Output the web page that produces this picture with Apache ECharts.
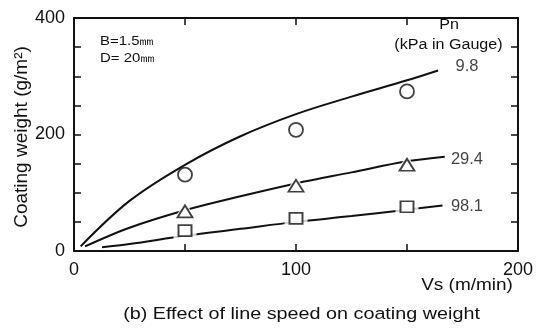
<!DOCTYPE html>
<html>
<head>
<meta charset="utf-8">
<script src="https://cdn.jsdelivr.net/npm/echarts@6/dist/echarts.min.js"></script>
<style>
  html, body { margin: 0; padding: 0; background: #fff; }
  #chart { width: 539px; height: 331px; }
</style>
</head>
<body>
<div id="chart"></div>
<script>
// Line speed Vs (m/min) at which coating weight was measured
const speeds = [50, 100, 150];

// Measured coating weight (g/m²) for each nozzle pressure Pn
const measured98 = [131, 208, 274];    // Pn = 9.8 kPa
const measured294 = [68, 112, 148];    // Pn = 29.4 kPa
const measured981 = [35, 56, 76];      // Pn = 98.1 kPa

// Fitted curves: [Vs, coating weight]
const curve98 = [[3, 8], [25, 86], [50, 148], [75, 197], [100, 235], [125, 265], [150, 293], [164, 310]];
const curve294 = [[5, 8], [25, 40], [50, 70], [75, 94], [100, 116], [125, 135], [150, 154], [167, 162]];
const curve981 = [[12.6, 6.5], [25, 12], [50, 26], [75, 38], [100, 50], [125, 60], [150, 71], [166, 78]];

// Pressure labels at the end of each curve: [Vs, weight] anchor and text
const pressureLabels = ['9.8', '29.4', '98.1'];
const pressureLabelAt = [[177, 316], [177, 157], [177, 76]];

// Axis tick labels
const xTickLabels = [0, 100, 200];
const yTickLabels = [0, 200, 400];

const FONT = '"Liberation Sans", Arial, Helvetica, sans-serif';
const INK = '#111';
const WIDE = 1.15; // horizontal stretch of the annotation lettering

const pairs = (xs, ys) => xs.map((x, i) => [x, ys[i]]);

const chart = echarts.init(document.getElementById('chart'), null, { renderer: 'canvas' });

const baseAxis = {
  min: 0,
  interval: 50,
  axisLine: { show: true, onZero: false, lineStyle: { color: INK, width: 2 } },
  axisTick: { show: true, inside: true, length: 7, lineStyle: { color: INK, width: 1.5 } },
  splitLine: { show: false }
};

function curveSeries(data) {
  return {
    type: 'line', data, smooth: 0.35, symbol: 'none', z: 2, silent: true,
    lineStyle: { color: INK, width: 2 }
  };
}
function haloSeries(data, symbol, size) {
  return {
    type: 'scatter', data, symbol, symbolSize: size, z: 3, silent: true,
    itemStyle: { color: '#fff', borderWidth: 0 }
  };
}
function markerSeries(data, symbol, size) {
  return {
    type: 'scatter', data, symbol, symbolSize: size, z: 4, silent: true,
    itemStyle: { color: '#fff', borderColor: INK, borderWidth: 1.8 }
  };
}

function note(text, cx, cy, size, align) {
  return {
    type: 'text', x: cx, y: cy, scaleX: WIDE, scaleY: 1, z: 10,
    style: { text, fill: INK, font: size + 'px ' + FONT, align: align || 'center', verticalAlign: 'middle' }
  };
}

chart.setOption({
  animation: false,
  backgroundColor: '#fff',
  grid: { left: 74, top: 18, right: 21, bottom: 80, containLabel: false },
  xAxis: [
    Object.assign({}, baseAxis, {
      type: 'value', max: 200, position: 'bottom',
      axisLabel: {
        color: INK, fontFamily: FONT, fontSize: 18, margin: 10,
        formatter: v => xTickLabels.includes(v) ? String(v) : ''
      }
    }),
    Object.assign({}, baseAxis, {
      type: 'value', max: 200, position: 'top', axisLabel: { show: false }
    })
  ],
  yAxis: [
    Object.assign({}, baseAxis, {
      type: 'value', max: 400, position: 'left',
      axisLabel: {
        color: INK, fontFamily: FONT, fontSize: 18, margin: 9,
        formatter: v => yTickLabels.includes(v) ? String(v) : ''
      }
    }),
    Object.assign({}, baseAxis, {
      type: 'value', max: 400, position: 'right', axisLabel: { show: false }
    })
  ],
  graphic: [
    { type: 'text', x: 22, y: 137, rotation: Math.PI / 2, z: 10,
      style: { text: 'Coating weight (g/m²)', fill: INK, font: '19px ' + FONT, align: 'center', verticalAlign: 'middle' } },
    note('Vs (m/min)', 467, 285, 16.5),
    note('(b) Effect of line speed on coating weight', 301.5, 314, 17.2),
    note('B=1.5㎜', 100, 41, 13, 'left'),
    note('D= 20㎜', 100, 58, 13, 'left'),
    note('Pn', 449, 25, 14),
    note('(kPa in Gauge)', 448.5, 45, 14)
  ],
  series: [
    curveSeries(curve98),
    curveSeries(curve294),
    curveSeries(curve981),
    haloSeries(pairs(speeds, measured294), 'triangle', [25, 22]),
    haloSeries(pairs(speeds, measured981), 'rect', [23, 21]),
    markerSeries(pairs(speeds, measured98), 'circle', 14),
    markerSeries(pairs(speeds, measured294), 'triangle', [15, 12]),
    markerSeries(pairs(speeds, measured981), 'rect', [13, 11]),
    {
      type: 'scatter', symbolSize: 0, silent: true, z: 5,
      data: pressureLabels.map((t, i) => ({ value: pressureLabelAt[i], name: t })),
      label: {
        show: true, position: 'inside', formatter: p => p.name,
        color: INK, fontFamily: FONT, fontSize: 16.5
      }
    }
  ]
});
</script>
</body>
</html>
